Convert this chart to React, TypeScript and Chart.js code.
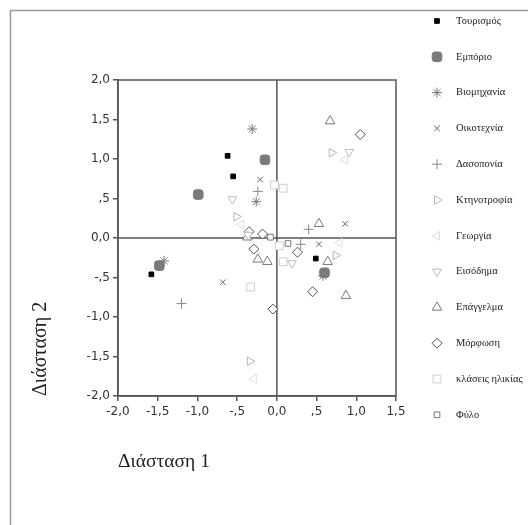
import React, { useEffect, useRef } from 'react';
import { Chart, registerables } from 'chart.js';
import { drawPoint } from 'chart.js/helpers';

Chart.register(...registerables);

// ---- data ----
const seriesNames = [
  'Τουρισμός', 'Εμπόριο', 'Βιομηχανία', 'Οικοτεχνία', 'Δασοπονία', 'Κτηνοτροφία',
  'Γεωργία', 'Εισόδημα', 'Επάγγελμα', 'Μόρφωση', 'κλάσεις ηλικίας', 'Φύλο',
];

const tourism = [[-0.62, 1.04], [-0.55, 0.78], [-1.58, -0.46], [0.49, -0.26]];
const commerce = [[-0.99, 0.55], [-0.15, 0.99], [-1.48, -0.35], [0.60, -0.44]];
const industry = [[-0.31, 1.38], [-0.26, 0.46], [-1.42, -0.29], [0.58, -0.48]];
const cottage = [[-0.21, 0.74], [-0.68, -0.56], [0.86, 0.18], [0.53, -0.08]];
const forestry = [[-0.24, 0.59], [-1.20, -0.83], [0.40, 0.11], [0.30, -0.08]];
const livestock = [[-0.51, 0.27], [0.69, 1.08], [0.74, -0.22], [-0.34, -1.56]];
const farming = [[-0.45, 0.17], [0.86, 0.99], [0.79, -0.06], [-0.29, -1.78]];
const income = [[-0.56, 0.49], [0.91, 1.09], [0.19, -0.32], [-0.36, 0.04]];
const occupation = [[0.67, 1.48], [0.53, 0.18], [0.64, -0.30], [0.87, -0.73], [-0.24, -0.27], [-0.12, -0.30], [-0.37, 0.01]];
const education = [[1.05, 1.31], [-0.35, 0.08], [-0.18, 0.05], [-0.29, -0.14], [-0.05, -0.90], [0.26, -0.18], [0.45, -0.68]];
const ageGroups = [[-0.03, 0.67], [0.08, 0.63], [-0.33, -0.62], [0.08, -0.30], [0.03, -0.10]];
const gender = [[-0.08, 0.01], [0.14, -0.07]];

const seriesData = [tourism, commerce, industry, cottage, forestry, livestock, farming, income, occupation, education, ageGroups, gender];

const xTickLabels = ['-2,0', '-1,5', '-1,0', '-,5', '0,0', ',5', '1,0', '1,5'];
const yTickLabels = ['-2,0', '-1,5', '-1,0', '-,5', '0,0', ',5', '1,0', '1,5', '2,0'];

// ---- styles ----
const seriesStyles = [
  { pointStyle: 'rect', radius: 3.3, rotation: 0, border: '#000', fill: '#000', bw: 1 },
  { pointStyle: 'rectRounded', radius: 5.6, rotation: 0, border: '#7a7a7a', fill: '#7a7a7a', bw: 1 },
  { pointStyle: 'star', radius: 5, rotation: 0, border: '#7a7a7a', fill: 'rgba(0,0,0,0)', bw: 1 },
  { pointStyle: 'crossRot', radius: 4, rotation: 0, border: '#666', fill: 'rgba(0,0,0,0)', bw: 1 },
  { pointStyle: 'cross', radius: 5, rotation: 0, border: '#8a8a8a', fill: 'rgba(0,0,0,0)', bw: 1 },
  { pointStyle: 'triangle', radius: 5, rotation: 90, border: '#b8b8b8', fill: '#fff', bw: 1 },
  { pointStyle: 'triangle', radius: 5, rotation: -90, border: '#dedede', fill: '#fff', bw: 1 },
  { pointStyle: 'triangle', radius: 5, rotation: 180, border: '#bdbdbd', fill: '#fff', bw: 1 },
  { pointStyle: 'triangle', radius: 5.5, rotation: 0, border: '#7a7a7a', fill: '#fff', bw: 1 },
  { pointStyle: 'rectRot', radius: 5, rotation: 0, border: '#555', fill: '#fff', bw: 1 },
  { pointStyle: 'rect', radius: 5.5, rotation: 0, border: '#cfcfcf', fill: '#fff', bw: 1 },
  { pointStyle: 'rect', radius: 4, rotation: 0, border: '#777', fill: '#fff', bw: 1 },
];

const framePlugin = {
  id: 'framePlugin',
  beforeDraw(chart: any) {
    const ctx = chart.ctx;
    ctx.save();
    ctx.fillStyle = '#fff';
    ctx.fillRect(0, 0, chart.width, chart.height);
    ctx.strokeStyle = '#999';
    ctx.lineWidth = 1.5;
    ctx.strokeRect(10.5, 10.5, 800, 800);
    ctx.restore();
  },
  beforeDatasetsDraw(chart: any) {
    const { ctx, chartArea: a, scales } = chart;
    ctx.save();
    ctx.strokeStyle = '#555';
    ctx.lineWidth = 1.5;
    ctx.strokeRect(a.left, a.top, a.right - a.left, a.bottom - a.top);
    const x0 = scales.x.getPixelForValue(0);
    const y0 = scales.y.getPixelForValue(0);
    ctx.beginPath();
    ctx.moveTo(x0, a.top);
    ctx.lineTo(x0, a.bottom);
    ctx.moveTo(a.left, y0);
    ctx.lineTo(a.right, y0);
    ctx.stroke();
    ctx.restore();
  },
  afterDraw(chart: any) {
    const ctx = chart.ctx;
    ctx.save();
    chart.data.datasets.forEach((ds: any, i: number) => {
      const y = 21 + i * 35.8;
      ctx.fillStyle = ds.backgroundColor;
      ctx.strokeStyle = ds.borderColor;
      ctx.lineWidth = ds.borderWidth;
      drawPoint(ctx, { pointStyle: ds.pointStyle, radius: ds.pointRadius, rotation: ds.rotation, borderWidth: ds.borderWidth } as any, 437, y);
      ctx.fillStyle = '#222';
      ctx.font = '10.5px "Liberation Serif", serif';
      ctx.textBaseline = 'middle';
      ctx.textAlign = 'left';
      ctx.fillText(ds.label, 456, y);
    });
    ctx.restore();
  },
};

export default function App() {
  const ref = useRef<HTMLCanvasElement>(null);
  useEffect(() => {
    document.body.style.margin = '0';
    const datasets = seriesNames.map((name, i) => {
      const s = seriesStyles[i];
      return {
        label: name,
        data: seriesData[i].map(([x, y]) => ({ x, y })),
        pointStyle: s.pointStyle,
        pointRadius: s.radius,
        rotation: s.rotation,
        borderColor: s.border,
        backgroundColor: s.fill,
        borderWidth: s.bw,
        showLine: false,
      };
    });
    const tickFont = { family: '"DejaVu Sans", sans-serif', size: 12 };
    const chart = new Chart(ref.current!, {
      type: 'scatter',
      data: { datasets } as any,
      plugins: [framePlugin],
      options: {
        responsive: false,
        animation: false,
        layout: { padding: { left: 0, top: 80, right: 132, bottom: 0 } },
        plugins: { legend: { display: false }, tooltip: { enabled: false } },
        scales: {
          x: {
            type: 'linear',
            min: -2,
            max: 1.5,
            afterFit: (s: any) => { s.height = 129; },
            grid: { drawOnChartArea: false, drawTicks: true, tickLength: 5, color: '#555', lineWidth: 1.5 },
            border: { display: true, color: '#555', width: 1.5 },
            ticks: {
              stepSize: 0.5,
              padding: 4,
              maxRotation: 0,
              color: '#333',
              font: tickFont,
              callback: (_v: any, i: number) => xTickLabels[i],
            },
            title: {
              display: true,
              text: 'Διάσταση 1',
              align: 'start',
              color: '#222',
              font: { family: '"Liberation Serif", serif', size: 19.5 },
              padding: { top: 0, bottom: 51 },
            },
          },
          y: {
            type: 'linear',
            min: -2,
            max: 2,
            afterFit: (s: any) => { s.width = 118; },
            grid: { drawOnChartArea: false, drawTicks: true, tickLength: 5, color: '#555', lineWidth: 1.5 },
            border: { display: true, color: '#555', width: 1.5 },
            ticks: {
              stepSize: 0.5,
              padding: 3,
              color: '#333',
              font: tickFont,
              callback: (_v: any, i: number) => yTickLabels[i],
            },
            title: {
              display: true,
              text: 'Διάσταση 2',
              align: 'start',
              color: '#222',
              font: { family: '"Liberation Serif", serif', size: 20 },
              padding: { top: 29, bottom: 0 },
            },
          },
        },
      } as any,
    });
    return () => chart.destroy();
  }, []);
  return <canvas ref={ref} width={528} height={525} style={{ display: 'block' }} />;
}
